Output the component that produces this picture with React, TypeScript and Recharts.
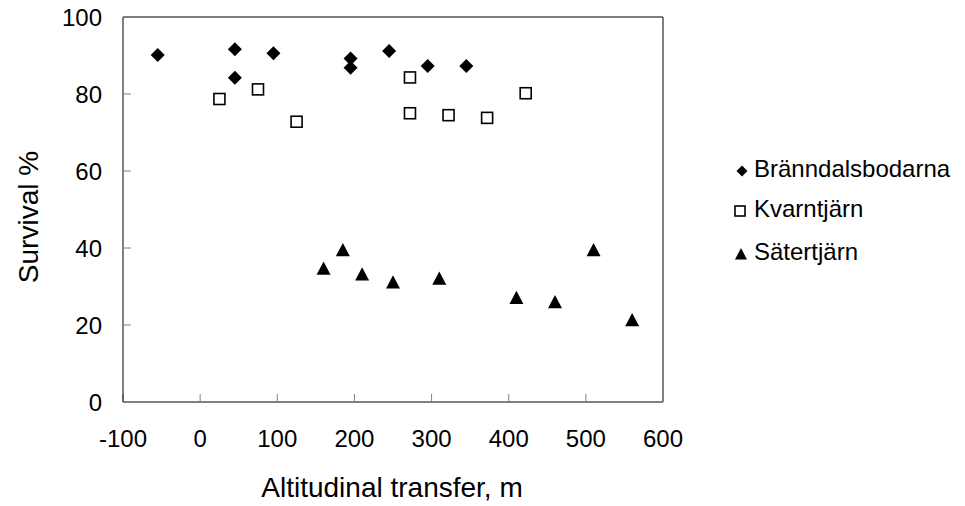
import { ReferenceLine, Scatter, ScatterChart, XAxis, YAxis } from "recharts";

const FONT = "'Liberation Sans', Arial, sans-serif";

const X_TICKS = [-100, 0, 100, 200, 300, 400, 500, 600];
const Y_TICKS = [0, 20, 40, 60, 80, 100];

const BRAN_X = [-55, 45, 45, 95, 195, 195, 245, 295, 345];
const BRAN_Y = [90.1, 91.6, 84.2, 90.6, 89.2, 86.8, 91.2, 87.3, 87.3];

const KVARN_X = [25, 75, 125, 272, 272, 322, 372, 422];
const KVARN_Y = [78.7, 81.2, 72.8, 84.3, 75, 74.5, 73.8, 80.2];

const SATER_X = [160, 185, 210, 250, 310, 410, 460, 510, 560];
const SATER_Y = [34.7, 39.5, 33.2, 31.1, 32.1, 27.1, 26, 39.5, 21.3];

const toPoints = (xs: number[], ys: number[]) => xs.map((x, i) => ({ x, y: ys[i] }));

const bran = toPoints(BRAN_X, BRAN_Y);
const kvarn = toPoints(KVARN_X, KVARN_Y);
const sater = toPoints(SATER_X, SATER_Y);

const Diamond = ({ cx, cy, r = 7 }: any) => (
  <path d={`M${cx},${cy - r}L${cx + r},${cy}L${cx},${cy + r}L${cx - r},${cy}Z`} fill="#000" />
);
const Square = ({ cx, cy, r = 5.5 }: any) => (
  <rect x={cx - r} y={cy - r} width={2 * r} height={2 * r} fill="#fff" stroke="#000" strokeWidth={1.6} />
);
const Triangle = ({ cx, cy, r = 7 }: any) => (
  <path d={`M${cx},${cy - r}L${cx + r},${cy + r * 0.9}L${cx - r},${cy + r * 0.9}Z`} fill="#000" />
);

// legend rows: marker centre y, text baseline y
const LEGEND = [
  { name: "Bränndalsbodarna", Icon: Diamond, r: 5.5, cx: 742, cy: 171, base: 177 },
  { name: "Kvarntjärn", Icon: Square, r: 5, cx: 740, cy: 211, base: 217 },
  { name: "Sätertjärn", Icon: Triangle, r: 6, cx: 741, cy: 254, base: 260 },
];

function LegendBox() {
  return (
    <svg width={965} height={506} style={{ position: "absolute", left: 0, top: 0, fontFamily: FONT, pointerEvents: "none" }}>
      {LEGEND.map((it) => (
        <g key={it.name}>
          <it.Icon cx={it.cx} cy={it.cy} r={it.r} />
          <text x={754} y={it.base} fontSize={24} fill="#000">{it.name}</text>
        </g>
      ))}
    </svg>
  );
}

export default function App() {
  return (
    <div style={{ position: "fixed", left: 0, top: 0, width: 965, height: 506, background: "#fff" }}>
      <ScatterChart width={965} height={506} margin={{ top: 17, right: 302, bottom: 0, left: 0 }}>
        <XAxis
          type="number" dataKey="x" domain={[-100, 600]} ticks={X_TICKS} interval={0} height={104}
          stroke="#000" tickSize={-8} tickMargin={36}
          tickLine={{ stroke: "#808080" }}
          tick={{ fontSize: 24, fill: "#000", fontFamily: FONT }}
          label={{
            content: () => (
              <text x={392} y={497} textAnchor="middle" fontSize={28} fontFamily={FONT} fill="#000">
                Altitudinal transfer, m
              </text>
            ),
          }}
        />
        <YAxis
          type="number" dataKey="y" domain={[0, 100]} ticks={Y_TICKS} interval={0} width={123}
          stroke="#000" tickSize={-8} tickMargin={29}
          tickLine={{ stroke: "#808080" }}
          tick={{ fontSize: 24, fill: "#000", fontFamily: FONT }}
          label={{
            content: () => (
              <text x={38} y={217} transform="rotate(-90 38 217)" textAnchor="middle" fontSize={28}
                    fontFamily={FONT} fill="#000">
                Survival %
              </text>
            ),
          }}
        />
        <ReferenceLine y={100} stroke="#000" />
        <ReferenceLine x={600} stroke="#000" />
        <Scatter name="Bränndalsbodarna" data={bran} shape={Diamond} isAnimationActive={false} />
        <Scatter name="Kvarntjärn" data={kvarn} shape={Square} isAnimationActive={false} />
        <Scatter name="Sätertjärn" data={sater} shape={Triangle} isAnimationActive={false} />
      </ScatterChart>
      <LegendBox />
    </div>
  );
}
